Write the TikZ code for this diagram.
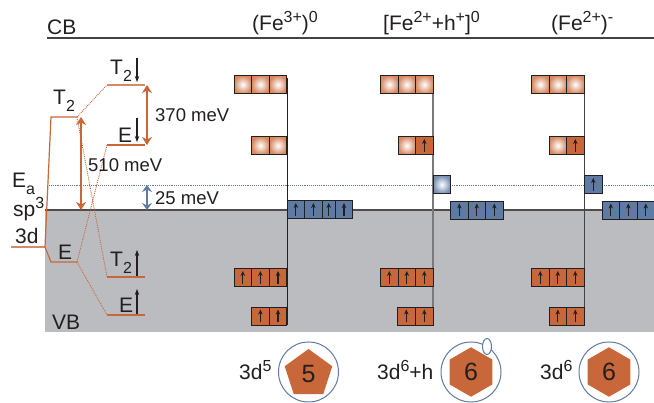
\documentclass[tikz,border=0pt]{standalone}
\usepackage{fontspec}
\setmainfont{Liberation Sans}
\usetikzlibrary{arrows.meta,shapes.geometric}
\definecolor{orng}{HTML}{C8673A}
\definecolor{lorng}{HTML}{D68A63}
\definecolor{grayb}{HTML}{BBBCC0}
\definecolor{blu}{HTML}{5F7BA3}
\definecolor{ink}{HTML}{231F20}
\newcommand{\lowr}[1]{\raisebox{-7pt}{\fontsize{16}{16}\selectfont #1}}
\newcommand{\upr}[1]{\raisebox{8pt}{\fontsize{16}{16}\selectfont #1}}
\tikzset{
  lbl/.style={anchor=base west,inner sep=0pt,text=ink,font=\fontsize{21}{21}\selectfont},
  mev/.style={anchor=base west,inner sep=0pt,text=ink,font=\fontsize{18.5}{18.5}\selectfont},
  cell/.style={minimum width=17.6pt,minimum height=18pt,inner sep=0pt,outer sep=0pt,anchor=north west,draw=ink,line width=0.9pt},
  empty/.style={cell,inner color=white,outer color=lorng},
  filled/.style={cell,fill=orng},
  bcell/.style={cell,fill=blu},
  hcell/.style={cell,inner color=white,outer color=blu!85},
  level/.style={orng,line width=1.2pt},
  split/.style={orng,line width=0.9pt,densely dotted},
  dbl/.style={orng,line width=1.4pt,{Stealth[length=8pt,width=10pt,inset=2.5pt]}-{Stealth[length=8pt,width=10pt,inset=2.5pt]}},
  spin/.style={ink,line width=1.2pt,-{Stealth[length=6pt,width=4.5pt]}},
  cspin/.style={ink,line width=1.2pt,-{Stealth[length=5pt,width=4.5pt]}},
  ring/.style={circle,draw=blu,line width=1pt,fill=white,minimum size=60pt,inner sep=0pt},
  num/.style={fill=orng,draw=none,inner sep=0pt,text=ink,font=\fontsize{25}{25}\selectfont},
}
\newcommand{\ecell}[3]{\node[empty] (#1) at (#2,#3) {};}
\newcommand{\acell}[4]{\node[#1] (#2) at (#3,#4) {};
  \draw[cspin] ([yshift=2.5pt]#2.south) -- ([yshift=-2.5pt]#2.north);}
\begin{document}
\begin{tikzpicture}[x=1pt,y=-1pt]
\useasboundingbox (0,0) rectangle (654,403);
\fill[white] (0,0) rectangle (654,403);
\fill[grayb] (45,210) rectangle (654,332);
\coordinate (cbl) at (47,38); \coordinate (cbr) at (654,38);
\coordinate (vbl) at (45,210); \coordinate (vbr) at (654,210);
\coordinate (eal) at (47,185); \coordinate (ear) at (654,185);
\draw[ink!85,line width=1.2pt] (cbl) -- (cbr);
\draw[ink!80,line width=1.1pt] (vbl) -- (vbr);
\draw[blu,line width=0.9pt,densely dotted] (eal) -- (ear);

\coordinate (d3a) at (11,247); \coordinate (d3b) at (45,247);
\coordinate (tl) at (51,117); \coordinate (tr) at (77,117);
\coordinate (el) at (51,262); \coordinate (er) at (77,262);
\coordinate (tdl) at (107,85); \coordinate (tdr) at (145,85);
\coordinate (edl) at (107,145); \coordinate (edr) at (145,145);
\coordinate (tul) at (107,277); \coordinate (tur) at (145,277);
\coordinate (eul) at (107,315); \coordinate (eur) at (145,315);
\draw[lorng,line width=1.3pt] (d3a) -- (d3b);
\draw[level] (d3b) -- (tl) -- (tr);
\draw[level] (d3b) -- (el) -- (er);
\draw[lorng,line width=1.4pt] (tdl) -- (tdr);
\draw[level] (edl) -- (edr);
\draw[level] (tul) -- (tur);
\draw[level] (eul) -- (eur);
\draw[split] (tr) -- (tdl);
\draw[split] (tr) -- (tul);
\draw[split] (er) -- (edl);
\draw[split] (er) -- (eul);

\coordinate (a1) at (147,85); \coordinate (a2) at (147,145);
\coordinate (b1) at (81,117); \coordinate (b2) at (81,210);
\coordinate (c1) at (147,185); \coordinate (c2) at (147,210);
\draw[dbl] (a1) -- (a2);
\draw[dbl] (b1) -- (b2);
\draw[blu,line width=1.4pt,{Stealth[length=7pt,width=10pt,inset=2.5pt]}-{Stealth[length=7pt,width=10pt,inset=2.5pt]}] (c1) -- (c2);
\coordinate (s1a) at (137,82); \coordinate (s1b) at (137,58);
\coordinate (s2a) at (137,142); \coordinate (s2b) at (137,118);
\coordinate (s3a) at (137,276); \coordinate (s3b) at (137,250);
\coordinate (s4a) at (137,314); \coordinate (s4b) at (137,289);
\draw[spin] (s1b) -- (s1a);
\draw[spin] (s2b) -- (s2a);
\draw[spin] (s3a) -- (s3b);
\draw[spin] (s4a) -- (s4b);

\coordinate (c1t) at (287,78); \coordinate (c1b) at (287,325);
\coordinate (c2t) at (433,78); \coordinate (c2b) at (433,325);
\coordinate (c3t) at (584,78); \coordinate (c3b) at (584,325);
\draw[ink,line width=1pt] (c1t) -- (c1b);
\draw[ink!60,line width=1.3pt] (c2t) -- (c2b);
\draw[ink!85,line width=1pt] (c3t) -- (c3b);

% column 1
\ecell{a1}{234}{75.5}\ecell{a2}{251.6}{75.5}\ecell{a3}{269.2}{75.5}
\ecell{a4}{251.6}{136.5}\ecell{a5}{269.2}{136.5}
\acell{bcell}{a6}{287}{200.5}\acell{bcell}{a7}{304.6}{200.5}
\acell{bcell,minimum width=13pt}{a8}{322.2}{200.5}\acell{bcell}{a9}{335.2}{200.5}
\acell{filled}{a10}{234}{268.5}\acell{filled}{a11}{251.6}{268.5}\acell{filled}{a12}{269.2}{268.5}
\acell{filled}{a13}{251.6}{307}\acell{filled}{a14}{269.2}{307}

% column 2
\ecell{m1}{380.5}{75.5}\ecell{m2}{398}{75.5}\ecell{m3}{415.5}{75.5}
\ecell{m4}{398}{136.5}\acell{filled}{m5}{415.5}{136.5}
\node[hcell] (m6) at (433,175.5) {};
\acell{bcell}{m7}{450.5}{201}\acell{bcell}{m8}{468}{201}\acell{bcell}{m9}{485.5}{201}
\acell{filled}{m10}{380.5}{268.5}\acell{filled}{m11}{398}{268.5}\acell{filled}{m12}{415.5}{268.5}
\acell{filled}{m13}{397.5}{307}\acell{filled}{m14}{415.5}{307}

% column 3
\ecell{r1}{531.5}{75.5}\ecell{r2}{549}{75.5}\ecell{r3}{566.5}{75.5}
\ecell{r4}{549}{136.5}\acell{filled}{r5}{566.5}{136.5}
\acell{bcell}{r6}{584.5}{175.5}
\acell{bcell}{r7}{602}{201}\acell{bcell}{r8}{619.5}{201}\acell{bcell}{r9}{637}{201}
\acell{filled}{r10}{531.5}{268.5}\acell{filled}{r11}{549}{268.5}\acell{filled}{r12}{566.5}{268.5}
\acell{filled}{r13}{549}{307}\acell{filled}{r14}{566.5}{307}

% labels
\node[lbl] (tcb) at (47,35) {CB};
\node[lbl] (tvb) at (52,330) {VB};
\node[lbl] (h1) at (252,31) {(Fe\upr{3+})\upr{0}};
\node[lbl] (h2) at (383,31) {[Fe\upr{2+}+h\upr{+}]\upr{0}};
\node[lbl] (h3) at (551,31) {(Fe\upr{2+})\upr{-}};
\node[lbl] (l1) at (110,75) {T\lowr{2}};
\node[lbl] (l2) at (53,105) {T\lowr{2}};
\node[lbl] (l3) at (118,143) {E};
\node[lbl] (l4) at (12,188) {E\lowr{a}};
\node[lbl] (l5) at (13,217) {sp\upr{3}};
\node[lbl] (l6) at (15,244) {3d};
\node[lbl] (l7) at (58,260) {E};
\node[lbl] (l8) at (110,267) {T\lowr{2}};
\node[lbl] (l9) at (119,313) {E};
\node[mev] (m370) at (155,122) {370 meV};
\node[mev] (m510) at (88,172) {510 meV};
\node[mev] (m25) at (155,205) {25 meV};

% ions
\node[lbl] (i1) at (239,380) {3d\upr{5}};
\node[lbl] (i2) at (377,380) {3d\upr{6}+h};
\node[lbl] (i3) at (540,380) {3d\upr{6}};
\node[ring] (c1) at (308.5,372) {};
\node[ring] (c2) at (471,372) {};
\node[ring] (c3) at (609,372) {};
\node[regular polygon,regular polygon sides=5,minimum size=50pt,num] (p1) at (308.5,374) {5};
\node[regular polygon,regular polygon sides=6,minimum size=49.5pt,num,shape border rotate=30] (p2) at (471,372) {6};
\node[regular polygon,regular polygon sides=6,minimum size=49.5pt,num,shape border rotate=30] (p3) at (609,372) {6};
\node[ellipse,draw=blu,line width=1pt,fill=white,minimum width=9pt,minimum height=16pt,inner sep=0pt] (hole) at (487,346.5) {};
\end{tikzpicture}
\end{document}
